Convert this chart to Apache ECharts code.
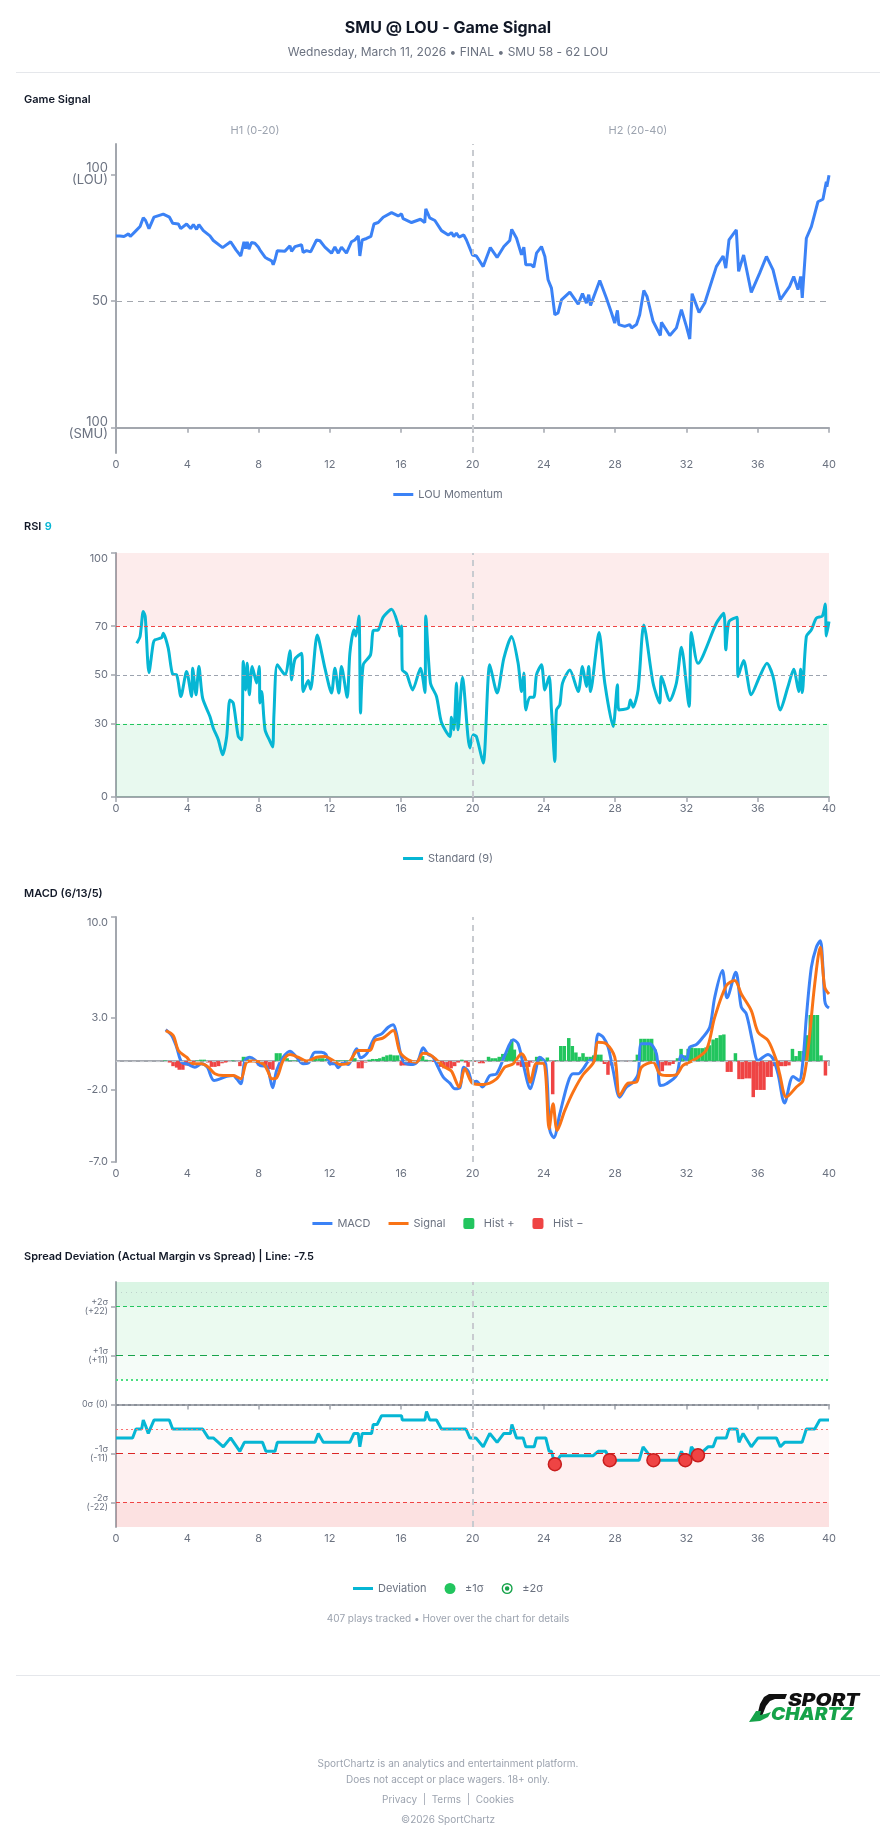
<!DOCTYPE html>
<html>
<head>
<meta charset="utf-8">
<title>SMU @ LOU - Game Signal</title>
<script src="https://cdn.jsdelivr.net/npm/echarts@6.0.0/dist/echarts.min.js"></script>
<style>
  html, body { margin: 0; padding: 0; background: #fff; }
  #page { width: 896px; height: 1845px; }
</style>
</head>
<body>
<div id="page"></div>
<script>
// game minute, LOU momentum (0 = SMU 100, 50 = even, 100 = LOU 100)
const momentum = [
  [0,75.7],[0.22,75.7],[0.45,75.5],[0.7,76.5],[0.8,75.5],[1.07,77.4],[1.35,79.4],[1.53,82.9],[1.66,81.8],[1.85,78.6],
  [2.13,83.1],[2.65,84.3],[3.0,83.1],[3.18,80.7],[3.5,80.4],[3.63,78.6],[3.96,80.4],[4.19,78.6],[4.34,80.2],[4.52,78.3],
  [4.65,80.2],[4.9,77.8],[5.27,75.7],[5.46,73.9],[5.98,71.1],[6.43,73.4],[6.73,70.2],[7.0,67.8],[7.18,73.4],[7.27,70.7],
  [7.36,73.4],[7.46,70.5],[7.6,73.1],[7.79,72.8],[7.98,71.3],[8.07,70.2],[8.36,67.3],[8.54,66.5],[8.73,65.9],[8.82,64.3],
  [8.92,66.3],[9.05,69.9],[9.48,69.7],[9.76,71.8],[9.85,69.6],[10.04,71.5],[10.41,72.2],[10.5,69.2],[10.69,69.9],[10.92,69.4],
  [11.25,74.1],[11.44,73.8],[11.72,71.3],[12.09,68.9],[12.28,71.3],[12.47,68.9],[12.65,71.3],[12.93,68.9],[13.21,73.4],[13.4,74.1],
  [13.59,75.7],[13.68,67.8],[13.81,74.1],[14.06,74.7],[14.3,75.5],[14.47,80.4],[14.71,81.0],[14.99,83.1],[15.46,84.9],[15.83,83.6],
  [16.02,84.4],[16.11,82.5],[16.58,81.0],[17.08,82.3],[17.32,81.0],[17.38,86.4],[17.6,82.8],[17.89,81.8],[18.26,77.8],[18.64,76.1],
  [18.82,77.0],[18.95,75.5],[19.1,76.8],[19.25,75.2],[19.51,76.1],[19.66,74.1],[20.0,68.2],[20.22,67.8],[20.6,63.6],[21.0,71.1],
  [21.38,67.2],[21.76,71.5],[22.09,73.9],[22.2,78.3],[22.47,74.8],[22.75,68.2],[22.88,71.3],[22.99,64.3],[23.3,64.3],[23.44,63.4],
  [23.59,68.9],[23.87,71.5],[24.06,67.6],[24.24,58.4],[24.43,55.1],[24.62,44.6],[24.8,45.3],[24.99,50.5],[25.46,53.5],[25.93,48.8],
  [26.17,52.9],[26.39,49.2],[26.52,52.5],[26.62,48.2],[27.14,58.1],[27.51,51.2],[27.79,45.5],[27.98,41.3],[28.13,46.3],[28.21,40.7],
  [28.54,40.0],[28.82,40.7],[28.92,39.4],[29.2,40.7],[29.38,44.6],[29.61,54.2],[29.79,51.8],[30.13,42.0],[30.54,36.4],[30.6,41.6],
  [31.07,36.4],[31.44,39.4],[31.72,46.6],[32.0,40.0],[32.19,35.0],[32.32,52.9],[32.71,45.5],[33.03,49.2],[33.68,63.6],[34.06,67.8],
  [34.21,63.0],[34.39,74.1],[34.8,78.1],[34.93,61.7],[35.21,68.2],[35.64,53.4],[36.11,61.0],[36.49,67.6],[36.86,62.3],[37.27,50.5],
  [37.79,55.8],[38.02,59.7],[38.26,54.5],[38.41,59.7],[38.5,51.2],[38.73,74.8],[39.01,79.4],[39.38,89.2],[39.66,90.2],[39.85,97.1],
  [39.88,95.1],[40.0,99.7]
];

const rsi = [
  [1.16,63.0],[1.35,65.8],[1.53,76.0],[1.64,73.9],[1.85,51.0],[2.09,63.0],[2.19,64.4],[2.56,65.3],[2.65,67.1],[2.93,61.0],
  [3.18,50.3],[3.4,50.1],[3.64,41.2],[3.96,51.4],[4.24,41.2],[4.3,52.8],[4.49,41.9],[4.65,53.5],[4.86,40.5],[5.27,33.0],
  [5.46,28.2],[5.74,23.5],[5.98,17.3],[6.21,24.8],[6.39,39.8],[6.58,38.5],[6.86,24.8],[7.05,23.5],[7.14,55.5],[7.27,43.9],
  [7.36,54.8],[7.48,41.9],[7.64,53.5],[7.89,46.7],[8.04,53.5],[8.07,38.5],[8.17,43.2],[8.36,27.6],[8.64,22.8],[8.79,20.5],
  [8.86,33.7],[9.05,54.2],[9.48,50.1],[9.76,59.9],[9.85,48.0],[10.04,56.5],[10.41,58.9],[10.5,43.2],[10.79,47.7],[10.92,44.2],
  [11.29,66.4],[11.72,52.8],[12.09,42.6],[12.28,52.8],[12.5,42.6],[12.65,53.5],[12.97,40.9],[13.12,58.9],[13.35,68.5],[13.46,66.0],
  [13.63,74.2],[13.72,34.4],[13.87,54.2],[14.28,58.3],[14.43,68.2],[14.71,68.5],[14.99,73.7],[15.46,76.9],[15.83,70.5],[15.93,66.0],
  [16.02,70.1],[16.06,52.1],[16.3,50.5],[16.64,43.9],[17.08,52.8],[17.33,42.8],[17.38,74.2],[17.64,46.7],[17.98,41.2],[18.26,30.5],
  [18.73,24.8],[18.82,32.7],[18.95,27.6],[19.1,46.7],[19.19,27.6],[19.44,49.1],[19.85,20.1],[20.04,25.5],[20.22,24.8],[20.6,13.9],
  [20.97,54.2],[21.38,42.6],[21.76,56.9],[22.19,65.8],[22.56,54.8],[22.75,43.2],[22.88,50.8],[22.99,35.7],[23.21,40.9],[23.44,40.9],
  [23.59,50.1],[23.87,54.2],[24.06,43.9],[24.3,49.4],[24.43,35.7],[24.62,14.6],[24.71,35.7],[24.9,37.8],[25.05,46.7],[25.46,52.1],
  [25.93,43.2],[26.17,53.5],[26.39,45.3],[26.52,53.5],[26.62,43.2],[27.1,67.4],[27.42,46.7],[27.89,28.9],[28.13,46.0],[28.21,35.7],
  [28.73,36.4],[28.86,39.8],[29.01,36.8],[29.29,43.9],[29.61,70.5],[30.13,46.7],[30.5,38.5],[30.6,49.4],[31.07,39.6],[31.44,46.7],
  [31.72,61.4],[32.15,37.1],[32.28,67.4],[32.65,54.8],[33.68,71.2],[34.09,75.3],[34.21,60.3],[34.39,71.9],[34.84,73.7],[34.9,49.4],
  [35.21,55.9],[35.64,41.9],[36.11,49.4],[36.52,54.8],[36.86,49.4],[37.27,35.7],[37.7,45.3],[38.02,52.4],[38.3,43.2],[38.41,52.4],
  [38.5,42.8],[38.73,65.8],[39.01,68.5],[39.29,73.3],[39.63,74.2],[39.79,79.1],[39.85,66.0],[40.0,71.9]
];

const macd = [
  [2.79,2.19],[3.12,1.78],[3.4,0.97],[3.68,-0.07],[4.06,-0.23],[4.43,-0.42],[4.8,-0.19],[5.12,-0.42],[5.5,-1.34],[6.21,-1.06],
  [6.58,-1.0],[6.77,-1.23],[7.0,-1.57],[7.23,0.04],[7.51,0.27],[7.79,0.09],[8.07,-0.3],[8.45,-0.37],[8.79,-1.85],[9.01,-0.65],
  [9.38,0.27],[9.76,0.69],[10.13,0.27],[10.5,-0.19],[10.79,-0.14],[11.16,0.62],[11.53,0.62],[11.78,0.46],[12.0,-0.19],[12.28,-0.19],
  [12.47,-0.46],[12.75,-0.07],[13.03,-0.23],[13.5,0.85],[13.72,0.23],[14.06,0.51],[14.52,1.66],[14.9,1.89],[15.27,2.35],[15.55,2.52],
  [15.74,1.89],[16.02,0.27],[16.3,-0.19],[16.67,-0.23],[16.95,0.04],[17.23,0.92],[17.51,0.46],[17.79,0.27],[18.07,-0.42],[18.36,-1.11],
  [18.73,-1.53],[19.01,-1.92],[19.29,-1.85],[19.51,-0.42],[19.76,-0.7],[20.0,-1.46],[20.22,-1.39],[20.56,-1.8],[20.97,-1.0],[21.35,-0.88],
  [21.81,0.39],[22.28,1.48],[22.56,1.2],[22.84,-0.19],[23.25,-1.92],[23.5,-0.88],[23.78,0.27],[24.11,-0.19],[24.34,-4.81],[24.56,-5.31],
  [24.9,-3.65],[25.36,-1.46],[25.64,-0.88],[25.93,-0.88],[26.21,-0.53],[26.58,0.04],[26.8,0.04],[27.05,1.89],[27.33,1.66],[27.61,0.97],
  [27.89,-0.65],[28.26,-2.5],[28.64,-1.8],[29.01,-1.46],[29.29,-0.88],[29.48,1.2],[29.94,1.2],[30.32,0.51],[30.54,-1.69],[30.88,-1.57],
  [31.44,-1.0],[31.72,0.39],[32.0,0.09],[32.19,0.97],[32.56,1.15],[32.93,1.66],[33.31,2.35],[33.59,4.43],[34.02,6.28],[34.28,4.39],
  [34.77,6.16],[35.08,3.74],[35.36,3.28],[35.74,1.2],[36.02,0.04],[36.58,0.46],[36.86,0.16],[37.14,-0.88],[37.51,-2.91],[37.98,-1.06],
  [38.32,-1.34],[38.54,0.04],[38.73,3.05],[39.01,6.51],[39.29,7.9],[39.51,8.36],[39.66,6.51],[39.76,4.2],[39.85,3.85],[40.0,3.69]
];

const signal = [
  [2.79,2.12],[3.21,1.78],[3.5,0.74],[3.96,0.27],[4.34,-0.19],[4.8,-0.19],[5.18,-0.42],[5.55,-0.88],[6.02,-1.0],[6.58,-1.0],
  [7.0,-1.23],[7.33,-0.07],[7.7,0.0],[8.26,-0.19],[8.54,-0.76],[8.73,-1.23],[9.01,-1.16],[9.38,0.04],[9.76,0.46],[10.22,0.27],
  [10.69,0.0],[11.25,0.27],[11.72,0.32],[12.19,0.04],[12.56,-0.23],[13.03,-0.14],[13.59,0.74],[14.24,0.74],[14.52,1.43],[14.99,1.61],
  [15.55,2.12],[15.93,0.62],[16.39,0.09],[16.86,-0.07],[17.23,0.55],[17.6,0.46],[17.98,0.09],[18.45,-0.42],[18.82,-0.7],[19.25,-1.8],
  [19.57,-0.53],[20.0,-1.53],[20.6,-1.62],[21.35,-1.23],[21.81,-0.42],[22.28,-0.19],[22.75,0.51],[22.99,0.04],[23.25,-1.46],[23.59,-0.14],
  [23.96,-0.14],[24.11,-1.0],[24.3,-4.69],[24.52,-2.96],[24.75,-4.81],[25.18,-3.42],[25.64,-2.15],[26.21,-0.93],[26.8,-0.07],[27.05,1.31],
  [27.51,1.2],[27.98,0.27],[28.26,-2.38],[28.73,-1.53],[29.2,-1.46],[29.48,-0.42],[30.13,-0.07],[30.5,-0.88],[30.88,-1.0],[31.44,-0.93],
  [31.81,-0.3],[32.37,0.04],[33.12,0.78],[33.59,3.05],[34.24,5.24],[34.71,5.59],[35.08,4.66],[35.64,3.51],[36.02,2.01],[36.58,1.43],
  [37.05,0.04],[37.23,-0.88],[37.61,-2.5],[38.17,-1.8],[38.54,-1.34],[38.82,0.74],[39.2,5.36],[39.51,7.9],[39.76,5.13],[40.0,4.66]
];

const histogram = [
  [2.75,0.05],[3.0,-0.1],[3.2,-0.35],[3.4,-0.45],[3.55,-0.6],[3.75,-0.6],[3.95,-0.3],[4.15,-0.25],[4.35,-0.1],[4.55,0.05],
  [4.75,0.1],[4.95,0.1],[5.15,-0.1],[5.35,-0.4],[5.55,-0.4],[5.75,-0.35],[5.95,-0.15],[6.15,-0.1],[6.35,-0.05],[6.55,0.05],
  [6.95,-0.35],[7.15,0.3],[7.35,0.3],[7.55,0.1],[7.75,0.05],[8.0,-0.3],[8.2,-0.35],[8.4,-0.4],[8.6,-0.55],[8.8,-0.6],
  [9.0,0.55],[9.2,0.55],[9.4,0.25],[9.6,0.2],[9.8,0.05],[10.0,0.05],[10.2,0.05],[10.4,-0.15],[10.6,-0.15],[10.8,-0.05],
  [11.0,0.05],[11.2,0.2],[11.4,0.2],[11.6,0.2],[11.8,0.15],[12.0,-0.2],[12.2,-0.2],[12.4,0.05],[12.6,0.05],[12.8,0.05],
  [13.0,0.05],[13.2,0.1],[13.4,0.2],[13.6,-0.5],[13.8,-0.5],[14.0,-0.1],[14.2,0.1],[14.4,0.15],[14.6,0.15],[14.8,0.2],
  [15.0,0.3],[15.2,0.4],[15.4,0.45],[15.6,0.4],[15.8,0.4],[16.0,-0.3],[16.2,-0.3],[16.4,-0.3],[16.6,-0.25],[16.8,-0.2],
  [17.0,0.1],[17.2,0.35],[17.4,0.1],[17.6,0.05],[17.8,-0.05],[18.0,-0.2],[18.2,-0.4],[18.4,-0.5],[18.6,-0.5],[18.8,-0.5],
  [19.0,-0.35],[19.2,-0.1],[19.4,0.1],[19.6,-0.1],[19.75,-0.4],[20.0,0.05],[20.2,-0.05],[20.4,-0.15],[20.6,-0.15],[20.9,0.3],
  [21.1,0.2],[21.3,0.2],[21.5,0.3],[21.7,0.5],[21.9,0.55],[22.05,1.0],[22.2,1.5],[22.35,0.8],[22.55,-0.3],[22.75,-0.4],
  [22.95,-0.4],[23.15,-0.4],[23.35,-0.1],[23.6,0.3],[23.8,0.3],[24.0,0.1],[24.2,0.25],[24.5,-2.3],[24.7,0.05],[24.95,1.05],
  [25.15,1.05],[25.4,1.6],[25.6,1.05],[25.8,0.6],[26.0,0.3],[26.2,0.55],[26.4,0.3],[26.6,0.3],[26.8,0.4],[27.0,0.45],
  [27.2,0.45],[27.4,-0.2],[27.6,-0.95],[27.8,-0.3],[28.0,-0.05],[28.4,-0.05],[28.8,-0.05],[29.1,0.05],[29.25,0.45],[29.45,1.55],
  [29.65,1.55],[29.85,1.55],[30.05,1.55],[30.25,0.8],[30.45,-0.8],[30.65,-0.7],[30.85,-0.3],[31.05,-0.3],[31.25,-0.2],[31.5,0.2],
  [31.7,0.85],[31.9,0.4],[32.1,0.85],[32.3,0.95],[32.5,0.9],[32.7,0.9],[32.9,0.9],[33.1,0.95],[33.3,1.1],[33.5,1.5],
  [33.7,1.6],[33.9,1.8],[34.1,1.85],[34.3,-0.75],[34.5,-0.75],[34.75,0.55],[34.95,-1.25],[35.15,-1.25],[35.35,-1.2],[35.55,-1.2],
  [35.75,-2.5],[35.95,-2.0],[36.15,-2.0],[36.35,-2.0],[36.55,-1.1],[36.75,-1.1],[36.95,-0.35],[37.15,-0.35],[37.35,-0.35],[37.55,-0.35],
  [37.75,-0.3],[37.95,0.85],[38.15,0.35],[38.35,0.7],[38.55,0.7],[38.75,1.8],[38.95,3.2],[39.15,3.2],[39.35,3.2],[39.55,0.4],
  [39.8,-1.0]
];

// actual margin vs spread, in points (1 sigma = 11)
const deviation = [
  [0,-7.5],[0.93,-7.5],[1.12,-5.5],[1.44,-5.5],[1.53,-3.5],[1.68,-5.0],[1.81,-6.5],[2.13,-3.5],[2.99,-3.5],[3.18,-5.5],
  [4.86,-5.5],[5.18,-7.5],[5.46,-7.5],[6.02,-9.5],[6.43,-7.5],[6.95,-10.5],[7.2,-8.5],[8.22,-8.5],[8.41,-10.5],[8.92,-10.5],
  [9.05,-8.5],[11.16,-8.5],[11.35,-6.5],[11.63,-8.5],[13.12,-8.5],[13.35,-6.5],[13.59,-6.5],[13.68,-9.5],[13.81,-6.5],[14.34,-6.5],
  [14.43,-4.5],[14.65,-4.5],[14.9,-2.5],[16.02,-2.5],[16.06,-3.5],[17.33,-3.5],[17.42,-1.6],[17.6,-3.5],[17.98,-3.5],[18.26,-5.5],
  [19.63,-5.5],[19.85,-7.5],[20.19,-7.5],[20.6,-9.5],[20.97,-6.5],[21.38,-8.5],[21.76,-6.5],[22.13,-6.5],[22.21,-4.5],[22.47,-7.5],
  [22.84,-7.5],[22.99,-9.5],[23.46,-9.5],[23.59,-7.5],[24.11,-7.5],[24.3,-10.5],[24.43,-10.5],[24.62,-13.4],[24.93,-11.5],[26.77,-11.5],
  [27.05,-10.5],[27.48,-10.5],[27.7,-12.5],[29.35,-12.5],[29.57,-9.5],[29.94,-11.5],[30.15,-12.5],[31.53,-12.5],[31.72,-10.5],[31.94,-12.5],
  [32.19,-11.5],[32.28,-9.5],[32.47,-10.5],[32.65,-11.4],[32.93,-10.5],[33.21,-9.5],[33.5,-9.5],[33.68,-7.5],[34.24,-7.5],[34.39,-5.5],
  [34.84,-5.5],[34.95,-8.5],[35.18,-6.5],[35.64,-9.5],[36.02,-7.5],[37.05,-7.5],[37.27,-9.5],[37.51,-8.5],[38.49,-8.5],[38.73,-5.5],
  [39.2,-5.5],[39.48,-3.5],[40.0,-3.5]
];

const sigmaHits = [[24.62,-13.4],[27.7,-12.5],[30.15,-12.5],[31.94,-12.5],[32.65,-11.4]];

const momentumTicks = [0, 50, 100];
const momentumLabels = ['100\n(SMU)', '50', '100\n(LOU)'];
const rsiTicks = [0, 30, 50, 70, 100];
const macdTicks = [-7, -2, 3, 10];
const spreadTicks = [-22, -11, 0, 11, 22];
const spreadLabels = ['-2σ\n(-22)', '-1σ\n(-11)', '0σ (0)', '+1σ\n(+11)', '+2σ\n(+22)'];

const AXIS = '#a3a7ae';
const LABEL = '#6b7280';
const lineIcon = 'path://M0,0h20v3h-20z';
const squareIcon = 'path://M2,0h7a2,2,0,0,1,2,2v7a2,2,0,0,1,-2,2h-7a2,2,0,0,1,-2,-2v-7a2,2,0,0,1,2,-2z';
const ringIcon = 'path://M12,0A12,12,0,1,1,12,24A12,12,0,1,1,12,0ZM12,3A9,9,0,1,0,12,21A9,9,0,1,0,12,3ZM12,7A5,5,0,1,1,12,17A5,5,0,1,1,12,7Z';

function xAxisFor (gridIndex) {
  return {
    type: 'value', gridIndex: gridIndex, min: 0, max: 40, interval: 4,
    axisLine: { show: true, lineStyle: { color: AXIS, width: 2 } },
    axisTick: { show: true, length: 5, lineStyle: { color: AXIS, width: 1.5 } },
    axisLabel: { color: LABEL, fontSize: 11, margin: 6 },
    splitLine: { show: false }
  };
}

function yAxisFor (gridIndex, min, max, ticks, label) {
  return {
    type: 'value', gridIndex: gridIndex, min: min, max: max,
    axisLine: { show: true, lineStyle: { color: AXIS, width: 2 } },
    axisTick: { show: true, length: 5, customValues: ticks, lineStyle: { color: AXIS, width: 1.5 } },
    axisLabel: Object.assign({ color: LABEL, fontSize: 11, margin: 8, customValues: ticks }, label),
    splitLine: { show: false }
  };
}

function hLine (y, color, type, width) {
  return { yAxis: y, lineStyle: { color: color, type: type, width: width || 1 } };
}
const halfLine = { xAxis: 20, lineStyle: { color: '#c8cbd0', type: [6, 5], width: 2 } };

function markLines (data) {
  return { silent: true, symbol: ['none', 'none'], label: { show: false }, data: data };
}

function band (from, to, color) {
  return [{ yAxis: from, itemStyle: { color: color } }, { yAxis: to }];
}

function text (x, y, str, font, fill, align) {
  return {
    type: 'text', x: x, y: y, silent: true,
    style: { text: str, font: font, fill: fill, align: align || 'left', textAlign: align || 'left', verticalAlign: 'middle', textVerticalAlign: 'middle' }
  };
}

const legendBase = {
  left: 'center', itemWidth: 20, itemHeight: 11, itemGap: 18,
  textStyle: { color: LABEL, fontSize: 11 }
};

const chart = echarts.init(document.getElementById('page'));

chart.setOption({
  animation: false,
  textStyle: { fontFamily: 'Inter, "Noto Sans", sans-serif' },
  grid: [
    { left: 116, top: 144, width: 713, height: 309 },
    { left: 116, top: 553, width: 713, height: 244 },
    { left: 116, top: 917, width: 713, height: 245 },
    { left: 116, top: 1282, width: 713, height: 245 }
  ],
  xAxis: [xAxisFor(0), xAxisFor(1), xAxisFor(2), xAxisFor(3)],
  yAxis: [
    yAxisFor(0, -10, 112, momentumTicks, {
      fontSize: 13, lineHeight: 12,
      formatter: v => momentumLabels[momentumTicks.indexOf(v)]
    }),
    yAxisFor(1, 0, 100, rsiTicks, { verticalAlignMaxLabel: 'top' }),
    yAxisFor(2, -7, 10, macdTicks, { verticalAlignMaxLabel: 'top', formatter: v => v.toFixed(1) }),
    yAxisFor(3, -27.5, 27.5, spreadTicks, {
      fontSize: 9, lineHeight: 9,
      formatter: v => spreadLabels[spreadTicks.indexOf(v)]
    })
  ],
  legend: [
    Object.assign({ top: 484, data: [{ name: 'LOU Momentum', icon: lineIcon }] }, legendBase),
    Object.assign({ top: 848, data: [{ name: 'Standard (9)', icon: lineIcon }] }, legendBase),
    Object.assign({
      top: 1213,
      data: [
        { name: 'MACD', icon: lineIcon },
        { name: 'Signal', icon: lineIcon },
        { name: 'Hist +', icon: squareIcon },
        { name: 'Hist −', icon: squareIcon }
      ]
    }, legendBase),
    Object.assign({
      top: 1578,
      data: [
        { name: 'Deviation', icon: lineIcon },
        { name: '±1σ', icon: 'circle' },
        { name: '±2σ', icon: ringIcon }
      ]
    }, legendBase)
  ],
  series: [
    {
      name: 'LOU Momentum', type: 'line', xAxisIndex: 0, yAxisIndex: 0,
      data: momentum, showSymbol: false, color: '#3b82f6',
      lineStyle: { width: 3, color: '#3b82f6' },
      markLine: markLines([hLine(50, '#a3a7ae', [6, 5], 1.2), halfLine])
    },
    {
      name: 'Standard (9)', type: 'line', xAxisIndex: 1, yAxisIndex: 1,
      data: rsi, showSymbol: false, smooth: 0.25, color: '#06b6d4',
      lineStyle: { width: 3, color: '#06b6d4' },
      markArea: {
        silent: true,
        data: [band(70, 100, 'rgba(239,68,68,0.1)'), band(0, 30, 'rgba(34,197,94,0.1)')]
      },
      markLine: markLines([
        hLine(70, '#ef4444', [4, 3]),
        hLine(50, '#9ca3af', [4, 3]),
        hLine(30, '#22c55e', [4, 3]),
        halfLine
      ])
    },
    {
      name: 'Hist +', type: 'bar', xAxisIndex: 2, yAxisIndex: 2,
      data: histogram.filter(d => d[1] >= 0), barWidth: 3.5, barGap: '-100%',
      color: '#22c55e', itemStyle: { color: '#22c55e' }
    },
    {
      name: 'Hist −', type: 'bar', xAxisIndex: 2, yAxisIndex: 2,
      data: histogram.filter(d => d[1] < 0), barWidth: 3.5, barGap: '-100%',
      color: '#ef4444', itemStyle: { color: '#ef4444' }
    },
    {
      name: 'MACD', type: 'line', xAxisIndex: 2, yAxisIndex: 2,
      data: macd, showSymbol: false, smooth: 0.3, color: '#3b82f6',
      lineStyle: { width: 3, color: '#3b82f6' },
      markLine: markLines([hLine(0, '#c4c7cc', [4, 4], 1.2), halfLine])
    },
    {
      name: 'Signal', type: 'line', xAxisIndex: 2, yAxisIndex: 2,
      data: signal, showSymbol: false, smooth: 0.3, color: '#f97316',
      lineStyle: { width: 3, color: '#f97316' }
    },
    {
      name: 'Deviation', type: 'line', xAxisIndex: 3, yAxisIndex: 3,
      data: deviation, showSymbol: false, color: '#06b6d4',
      lineStyle: { width: 3, color: '#06b6d4' },
      markArea: {
        silent: true,
        data: [
          band(22, 27.5, 'rgba(34,197,94,0.17)'),
          band(11, 22, 'rgba(34,197,94,0.09)'),
          band(5.5, 11, 'rgba(34,197,94,0.045)'),
          band(-11, -5.5, 'rgba(239,68,68,0.04)'),
          band(-22, -11, 'rgba(239,68,68,0.08)'),
          band(-27.5, -22, 'rgba(239,68,68,0.16)')
        ]
      },
      markLine: markLines([
        hLine(25.2, 'rgba(156,163,175,0.45)', [1, 4]),
        hLine(22, '#22c55e', [4, 3]),
        hLine(11, '#16a34a', [7, 5]),
        hLine(5.5, '#4ade80', [2, 3], 2),
        hLine(0.001, '#8b9099', [3, 3], 2),
        hLine(-5.5, '#f87171', [2, 3], 1.2),
        hLine(-11, '#dc2626', [7, 5]),
        hLine(-22, '#ef4444', [4, 3]),
        halfLine
      ])
    },
    {
      name: '±1σ', type: 'scatter', xAxisIndex: 3, yAxisIndex: 3, z: 5,
      symbolSize: 13, color: '#22c55e', itemStyle: { color: '#22c55e', opacity: 1 },
      data: sigmaHits.map(p => ({
        value: p,
        itemStyle: { color: '#ef4444', borderColor: '#c81e1e', borderWidth: 1.5, opacity: 1 }
      }))
    },
    {
      name: '±2σ', type: 'scatter', xAxisIndex: 3, yAxisIndex: 3,
      symbolSize: 13, color: '#16a34a', itemStyle: { color: '#16a34a', opacity: 1 }, data: []
    }
  ],
  graphic: [
    text(448, 28, 'SMU @ LOU - Game Signal', '700 16px Inter', '#111827', 'center'),
    text(448, 52, 'Wednesday, March 11, 2026 • FINAL • SMU 58 - 62 LOU', '400 12px Inter', '#6b7280', 'center'),
    { type: 'rect', silent: true, shape: { x: 16, y: 72, width: 864, height: 1 }, style: { fill: '#e5e7eb' } },
    text(24, 100, 'Game Signal', '600 11px Inter', '#111827'),
    text(255, 131, 'H1 (0-20)', '400 11px Inter', '#9ca3af', 'center'),
    text(638, 131, 'H2 (20-40)', '400 11px Inter', '#9ca3af', 'center'),
    {
      type: 'text', x: 24, y: 527, silent: true,
      style: {
        text: '{a|RSI} {b|9}', verticalAlign: 'middle', textVerticalAlign: 'middle',
        rich: {
          a: { font: '600 11px Inter', fill: '#111827', color: '#111827' },
          b: { font: '600 11px Inter', fill: '#06b6d4', color: '#06b6d4' }
        }
      }
    },
    text(24, 894, 'MACD (6/13/5)', '600 11px Inter', '#111827'),
    text(24, 1257, 'Spread Deviation (Actual Margin vs Spread) | Line: -7.5', '600 11px Inter', '#111827'),
    text(448, 1619, '407 plays tracked • Hover over the chart for details', '400 10px Inter', '#9ca3af', 'center'),
    { type: 'rect', silent: true, shape: { x: 16, y: 1675, width: 864, height: 1 }, style: { fill: '#e5e7eb' } },
    // logo
    {
      type: 'polygon', silent: true,
      shape: { points: [[769, 1694], [787, 1694], [785, 1699], [775, 1699], [770, 1701], [766, 1706], [762, 1716], [757, 1716], [760, 1704], [764, 1697]] },
      style: { fill: '#111111' }
    },
    {
      type: 'polygon', silent: true,
      shape: { points: [[749, 1722], [756, 1711], [761, 1711], [760, 1715], [765, 1714], [771, 1712], [768, 1717], [760, 1721]] },
      style: { fill: '#16a34a' }
    },
    {
      type: 'text', x: 788, y: 1701, scaleX: 1.22, silent: true,
      style: { text: 'SPORT', font: 'italic 900 17px Inter', fill: '#111111', verticalAlign: 'middle', textVerticalAlign: 'middle' }
    },
    {
      type: 'text', x: 771, y: 1715, scaleX: 1.12, silent: true,
      style: { text: 'CHARTZ', font: 'italic 900 17px Inter', fill: '#16a34a', verticalAlign: 'middle', textVerticalAlign: 'middle' }
    },
    text(448, 1764, 'SportChartz is an analytics and entertainment platform.', '400 10px Inter', '#9ca3af', 'center'),
    text(448, 1780, 'Does not accept or place wagers. 18+ only.', '400 10px Inter', '#9ca3af', 'center'),
    text(448, 1800, 'Privacy  |  Terms  |  Cookies', '400 10px Inter', '#9ca3af', 'center'),
    text(448, 1820, '©2026 SportChartz', '400 10px Inter', '#9ca3af', 'center')
  ]
});
</script>
</body>
</html>
